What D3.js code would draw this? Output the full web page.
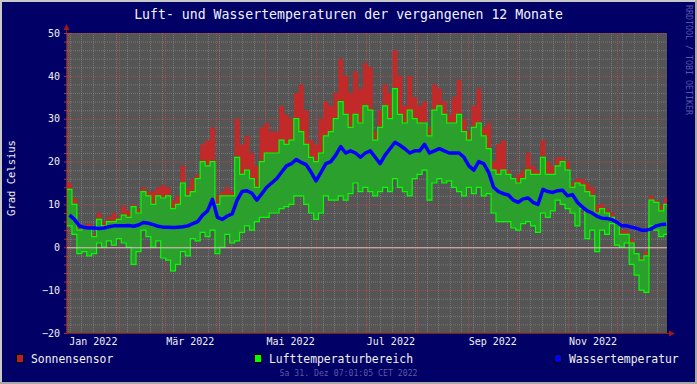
<!DOCTYPE html>
<html><head><meta charset="utf-8">
<script src="https://cdn.jsdelivr.net/npm/d3@7"></script>
<style>
html,body{margin:0;padding:0;background:#000066;}
svg{display:block;}
text{font-family:"DejaVu Sans Mono",monospace;}
</style></head><body>
<svg id="c" width="697" height="384"></svg>
<script>
// ---- data (one value per 3-day step, starting 31.12.2021 07:01) ----
const stepDays = 3;
const sunMax = [15,11.5,5,5,5.5,3,8,6,7,8, 7,9.5,8.5,10,9,14,13,13,14,14.5,
 14,11,12,19,14,16,17,24,25,28, 12,13,14,13,30,24,26,22,19,28,
 29,27,27,33,31,30,36,38,32,25, 24,30,34,33,36,44,40,36,41,37,
 43,42,27,32,38,36,46,40,33,40, 35,33,34,28,38,37,34,31,35,39,
 30,27,33,37,28,29,20,24,25,18, 16,17,18,22,19,18,25,20,19,21,
 21,20,15,16,16,15,14,10,10,9, 8,6,4,4,2,-1.5,-2.5,-1,12,11, 10,11.5];
const airMax = [13.5,10,4,4.5,4.5,2.5,6.5,5,6,6, 6.5,7.5,7,9.5,8,13,12,10,12,11.5,
 12,9,10,15,12,13,16,20,19,20, 10,12,12,12,21,17,18,16,14,20,
 22,22,22,25,24,25,30,27,24,21, 20,22,26,27,30,34,31,28,31,29,
 33,32,25,28,33,30,37,31,29,32, 30,29,29,26,32,33,31,29,29,31,
 27,25,28,29,26,23,18,17,18,17, 16,15,16,18,17,17,21,17,17,19,
 20,18,14,15,14.5,13,12,8,9,8, 7,5.5,3,3,1,-1.5,-3,-2,11,10.5, 8.5,10];
const airMin = [5,3,-1.5,-1,-2,-1.5,1,0,1.5,0.5, 2,1,0,-4,-1,4,2.5,0,1.5,-2.5,
 -3,-5.5,-4,-1,-2,2,1.5,3.5,2.5,4, -1.5,0,3,1,1.5,3.5,5,4,6,7,
 7,8,8,9,9.5,10,12,12,10,8, 6.5,8,12,11,11,12,11,12.5,15,13,
 14,13,12,13,14,13,16,14,13,12, 16,17,18,11,15,16,15,15.5,14,13,
 12,14,12.5,14,12,12.5,8,6,6,6, 4.5,4,5.5,6,5,3.5,8,7,8.5,11,
 10,9,8,5,9,2,4,-1,4,3, 5.5,0.5,0,1,-4,-6.5,-10,-10.5,5,4, 2.5,3];
const water = [7.5,6.5,5,4.6,4.5,4.5,4.4,4.5,4.8,5, 5,5,5.1,4.9,5.2,5.8,5.6,5.3,4.9,4.7,
 4.7,4.6,4.7,4.8,5,5.5,6,7.5,8.5,11.2, 7,6.5,7.3,7.8,11,13,13.2,12.6,11,12.5,
 14,15,16,17.5,19,19.5,20.5,19.8,19.3,17.5, 15.5,17.5,19.5,20,21.5,23.5,22,22.5,22,21,
 22,22.5,21,19.5,21.5,23,24.5,23.8,23,22, 22.5,22.5,24,22,22.5,23,22.5,22,22,22,
 21,19,18,20,19.5,17.5,14,13,12.5,12.2, 11,10.5,11.3,11.5,10.5,10,13.5,13,12.8,13.2,
 13.3,12,12.3,10.5,9.4,8.5,8,7.2,6.8,6.7, 6.5,5.8,5,5,4.7,4.4,4,4,4.3,5, 5.3,5.4];
const monthNames = ["Jan","Feb","Mär","Apr","Mai","Jun","Jul","Aug","Sep","Okt","Nov","Dez"];
const yTicks = [-20,-10,0,10,20,30,40,50];
const legendLabels = ["Sonnensensor","Lufttemperaturbereich","Wassertemperatur"];
const legendColors = ["#b5202e","#00ff00","#0000ff"];
const titleText = "Luft- und Wassertemperaturen der vergangenen 12 Monate";
const yTitle = "Grad Celsius";
const stampText = "Sa 31. Dez 07:01:05 CET 2022";
const creditText = "RRDTOOL / TOBI OETIKER";

// ---- layout ----
const W = 697, H = 384, L = 67, R = 667, T = 33, B = 333;
const DAY = 864e5;
const start = new Date(Date.UTC(2021, 11, 31, 7, 1, 5));
const end = new Date(Date.UTC(2022, 11, 31, 7, 1, 5));
const x = d3.scaleUtc().domain([start, end]).range([L, R]);
const y = d3.scaleLinear().domain([-20, 50]).range([B, T]);

const rows = sunMax.map((s, i) => ({t: new Date(+start + i * stepDays * DAY), sun: s, max: airMax[i], min: airMin[i], w: water[i]}));
const stepRows = rows.concat([Object.assign({}, rows[rows.length - 1], {t: end})]);

const svg = d3.select("#c");
svg.append("rect").attr("width", W).attr("height", H).attr("fill", "#000066");
// 3D frame
svg.append("path").attr("d", `M0,0H${W}V2H2V${H}H0Z`).attr("fill", "#c8c8c8");
svg.append("path").attr("d", `M${W},${H}H0V${H-2}H${W-2}V0H${W}Z`).attr("fill", "#a8a8a8");

svg.append("rect").attr("x", L).attr("y", T).attr("width", R - L).attr("height", B - T).attr("fill", "#555555");

const plot = svg.append("g");
// red sun area
plot.append("path").datum(stepRows)
  .attr("d", d3.area().curve(d3.curveStepAfter).x(d => x(d.t)).y0(d => y(d.min)).y1(d => y(d.sun)))
  .attr("fill", "#c22a2a");
// green range
plot.append("path").datum(stepRows)
  .attr("d", d3.area().curve(d3.curveStepAfter).x(d => x(d.t)).y0(d => y(d.min)).y1(d => y(d.max)))
  .attr("fill", "#2ca02c");

// grid
const grid = svg.append("g");
const minorY = d3.range(-20, 51, 2).filter(v => v % 10 !== 0);
grid.selectAll(".mh").data(minorY).join("line")
  .attr("x1", L).attr("x2", R).attr("y1", d => y(d) + 0.5).attr("y2", d => y(d) + 0.5)
  .attr("stroke", "#9a9a9a").attr("stroke-opacity", 0.5).attr("stroke-dasharray", "1,1");
grid.selectAll(".mv").data(d3.utcSunday.range(start, end)).join("line")
  .attr("y1", T).attr("y2", B).attr("x1", d => Math.round(x(d)) + 0.5).attr("x2", d => Math.round(x(d)) + 0.5)
  .attr("stroke", "#9a9a9a").attr("stroke-opacity", 0.5).attr("stroke-dasharray", "1,1");
grid.selectAll(".Mh").data(yTicks).join("line")
  .attr("x1", L).attr("x2", R).attr("y1", d => y(d) + 0.5).attr("y2", d => y(d) + 0.5)
  .attr("stroke", "#c04848").attr("stroke-opacity", 0.8).attr("stroke-dasharray", "1,1");
grid.selectAll(".Mv").data(d3.utcMonth.range(start, end)).join("line")
  .attr("y1", T).attr("y2", B).attr("x1", d => Math.round(x(d)) + 0.5).attr("x2", d => Math.round(x(d)) + 0.5)
  .attr("stroke", "#c04848").attr("stroke-opacity", 0.8).attr("stroke-dasharray", "1,1");

// green outlines
[d => y(d.max), d => y(d.min)].forEach(fy => {
  plot.append("path").datum(stepRows)
    .attr("d", d3.line().curve(d3.curveStepAfter).x(d => x(d.t)).y(fy))
    .attr("fill", "none").attr("stroke", "#00ff00").attr("stroke-width", 1.2);
});
plot.raise();
// zero line
svg.append("line").attr("x1", L).attr("x2", R).attr("y1", y(0) + 0.5).attr("y2", y(0) + 0.5)
  .attr("stroke", "#e8c4c4").attr("stroke-width", 1);
// water line
svg.append("path").datum(rows)
  .attr("d", d3.line().curve(d3.curveLinear).x(d => x(new Date(+d.t + stepDays * DAY / 2))).y(d => y(d.w)))
  .attr("fill", "none").attr("stroke", "#0000ff").attr("stroke-width", 3.5).attr("stroke-linejoin", "round");

// axes
const axCol = "#8a1c1c";
svg.append("line").attr("x1", L - 0.5).attr("x2", L - 0.5).attr("y1", B).attr("y2", T - 5).attr("stroke", axCol);
svg.append("line").attr("x1", L).attr("x2", R + 5).attr("y1", B + 0.5).attr("y2", B + 0.5).attr("stroke", axCol);
svg.append("path").attr("d", `M${L-3.5},${T-3}L${L-0.5},${T-9}L${L+2.5},${T-3}Z`).attr("fill", "#a01818");
svg.append("path").attr("d", `M${R+2},${B-2.5}L${R+8},${B+0.5}L${R+2},${B+3.5}Z`).attr("fill", "#a01818");

const yMinor = svg.append("g").attr("transform", `translate(${L},0)`)
  .call(d3.axisLeft(y).tickValues(d3.range(-20, 51, 2)).tickSize(3).tickFormat(""));
yMinor.select(".domain").remove();
yMinor.selectAll("line").attr("stroke", "#b03030");

const yAx = svg.append("g").attr("transform", `translate(${L},0)`)
  .call(d3.axisLeft(y).tickValues(yTicks).tickSize(0).tickPadding(7).tickFormat(d3.format("d")));
yAx.select(".domain").remove();
yAx.selectAll("text").attr("fill", "#f0f0f0").attr("font-size", "10px").attr("font-family", "DejaVu Sans Mono");

const labelDates = d3.utcMonth.range(new Date(Date.UTC(2022, 0, 1)), new Date(Date.UTC(2022, 11, 1)), 2)
  .map(d => new Date(+d + 15 * DAY));
const xAx = svg.append("g").attr("transform", `translate(0,${B})`)
  .call(d3.axisBottom(x).tickValues(labelDates).tickSize(0)
    .tickFormat(d => monthNames[d.getUTCMonth()] + " " + d.getUTCFullYear()));
xAx.select(".domain").remove();
xAx.selectAll("text").attr("y", 12).attr("dy", 0).attr("fill", "#f0f0f0")
  .attr("font-size", "10px").attr("font-family", "DejaVu Sans Mono");

// titles
svg.append("text").attr("x", W / 2).attr("y", 18.5).attr("text-anchor", "middle")
  .attr("fill", "#f2f2ff").attr("font-size", "13.2px").text(titleText);
svg.append("text").attr("transform", "translate(15,178) rotate(-90)").attr("text-anchor", "middle")
  .attr("fill", "#f0f0f0").attr("font-size", "10.5px").text(yTitle);
svg.append("text").attr("transform", "translate(686,5) rotate(90)").attr("text-anchor", "start")
  .attr("fill", "#5858a8").attr("font-size", "8.3px").text(creditText);

// legend
const legX = [16, 254, 554];
legendLabels.forEach((lab, i) => {
  svg.append("rect").attr("x", legX[i] + 0.5).attr("y", 354.5).attr("width", 7).attr("height", 8)
    .attr("fill", legendColors[i]).attr("stroke", "#000").attr("stroke-width", 1);
  svg.append("text").attr("x", legX[i] + 15).attr("y", 362.5).attr("fill", "#f0f0f0")
    .attr("font-size", "11.4px").text(lab);
});
svg.append("text").attr("x", W / 2).attr("y", 375.5).attr("text-anchor", "middle")
  .attr("fill", "#5a5aa8").attr("font-size", "8.2px").text(stampText);
</script>
</body></html>
